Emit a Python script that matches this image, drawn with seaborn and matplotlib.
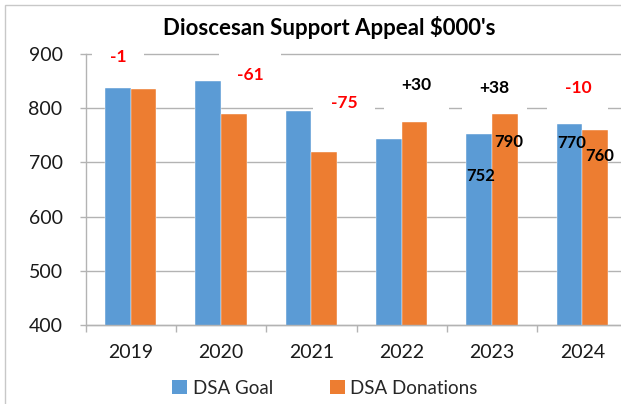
import seaborn as sns
import pandas as pd
import numpy as np
import matplotlib.pyplot as plt
from matplotlib.patches import Patch, Rectangle

# Data ($000's)
years = ["2019", "2020", "2021", "2022", "2023", "2024"]
goal = [837, 851, 795, 744, 752, 770]
donations = [836, 790, 720, 774, 790, 760]
series = ["DSA Goal", "DSA Donations"]
colors = ["#5B9BD5", "#ED7D31"]

# hand placed label spots (x in category units, y in data units)
delta_pos = [(-0.14, 894), (1.32, 861), (2.36, 810), (3.16, 843), (4.03, 837), (4.95, 837)]
# (series index, year index, x, y) for the few value labels on the bars
value_pos = [(0, 4, 3.87, 674), (1, 4, 4.18, 738), (0, 5, 4.88, 735), (1, 5, 5.19, 711)]

df = pd.DataFrame({
    "Year": years * 2,
    "Series": [series[0]] * len(years) + [series[1]] * len(years),
    "Value": goal + donations,
})

sns.set_theme(style="white")
plt.rcParams["font.family"] = ["Lato", "DejaVu Sans"]

fig = plt.figure(figsize=(6.21, 4.04), dpi=100)
ax = fig.add_axes([85.5 / 621, 79 / 404, 542 / 621, 271 / 404])

sns.barplot(data=df, x="Year", y="Value", hue="Series", palette=colors, saturation=1,
            width=0.565, edgecolor="white", linewidth=0.3, legend=False, ax=ax)

ax.set_xlim(-0.5, 5.5)
ax.set_ylim(400, 900)
ax.set_yticks(range(400, 901, 100))
ax.set_xlabel("")
ax.set_ylabel("")

grey = "#b3b3b3"
ax.set_axisbelow(True)
ax.yaxis.grid(True, color=grey, linewidth=1.0)
for line in ax.get_ygridlines():
    line.set_clip_on(False)
for side in ["top", "right"]:
    ax.spines[side].set_visible(False)
for side in ["left", "bottom"]:
    ax.spines[side].set_color(grey)
    ax.spines[side].set_linewidth(1.0)

ax.set_xticks(np.arange(-0.5, 6, 1), minor=True)
ax.tick_params(axis="x", which="major", length=0, pad=14, labelsize=14, labelcolor="#1a1a1a")
ax.tick_params(axis="x", which="minor", length=5, width=1, color=grey, direction="out", bottom=True)
ax.tick_params(axis="y", length=4.5, width=1, color=grey, direction="out", left=True,
               pad=12, labelsize=14, labelcolor="#1a1a1a")

# difference labels (donations - goal); white boxes break the gridlines but sit under the bars
for (x, y), g, d in zip(delta_pos, goal, donations):
    diff = d - g
    ax.text(x, y, f"{diff:+d}", ha="center", va="center", fontsize=12.5, fontweight="bold",
            color="#ff0000" if diff < 0 else "black", zorder=0.8,
            bbox=dict(boxstyle="square,pad=1.0", fc="white", ec="none"))

vals = [goal, donations]
for s, i, x, y in value_pos:
    ax.text(x, y, str(vals[s][i]), ha="center", va="center", fontsize=12,
            fontweight="bold", color="black", zorder=5)

fig.text(329 / 621, 1 - 35 / 404, "Dioscesan Support Appeal \\$000's", ha="center",
         va="baseline", fontsize=16, fontweight="bold", color="black")

handles = [Patch(facecolor=c, edgecolor="none") for c in colors]
fig.legend(handles, series, loc="center", bbox_to_anchor=(325 / 621, 1 - 388 / 404),
           ncol=2, frameon=False, fontsize=13.5, handlelength=0.8, handleheight=0.8,
           handletextpad=0.3, columnspacing=3.0)

# outer chart frame, cut off on the right and bottom like the original
fig.patches.append(Rectangle((5 / 621, -0.1), 1.2, 1.1 - 5 / 404, transform=fig.transFigure,
                             fill=False, edgecolor="#c8c8c8", linewidth=1, figure=fig))

fig.savefig("out.png", dpi=100)
